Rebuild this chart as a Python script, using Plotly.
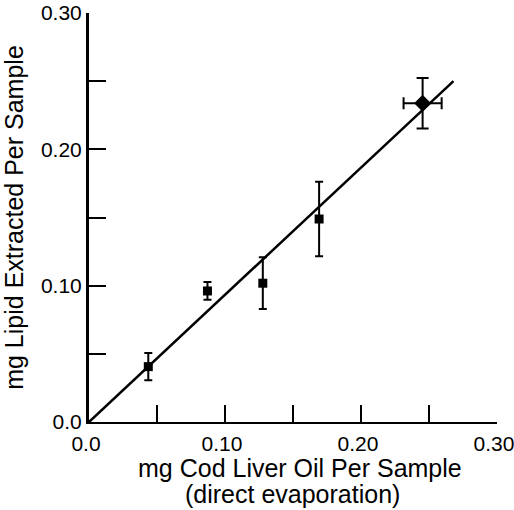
import plotly.graph_objects as go

# Data
sq_x = [0.0436, 0.0871, 0.1278, 0.1692]
sq_y = [0.0406, 0.0961, 0.1018, 0.1489]
sq_yerr = [0.0100, 0.0065, 0.0190, 0.0274]

dm_x = [0.2453]
dm_y = [0.2338]
dm_yerr = [0.0186]
dm_xerr = [0.0140]

fit_x = [0.0, 0.268]
fit_y = [0.0, 0.250]

tick_vals = [0.0, 0.05, 0.10, 0.15, 0.20, 0.25, 0.30]
x_tick_text = ["0.0", "", "0.10", "", "0.20", "", "0.30"]
y_tick_text = ["0.0", "", "0.10", "", "0.20", "", "0.30"]

x_title_lines = ["mg Cod Liver Oil Per Sample", "(direct evaporation)"]
y_title = "mg Lipid Extracted Per Sample"

FONT = "Liberation Sans, Arial, Helvetica, sans-serif"

fig = go.Figure()
fig.add_trace(go.Scatter(x=fit_x, y=fit_y, mode="lines",
                         line=dict(color="black", width=2.5), showlegend=False))
fig.add_trace(go.Scatter(x=sq_x, y=sq_y, mode="markers",
                         marker=dict(symbol="square", size=9, color="black"),
                         error_y=dict(type="data", array=sq_yerr, color="black",
                                      thickness=2, width=4),
                         showlegend=False))
fig.add_trace(go.Scatter(x=dm_x, y=dm_y, mode="markers",
                         marker=dict(symbol="diamond", size=13, color="black"),
                         error_y=dict(type="data", array=dm_yerr, color="black",
                                      thickness=2, width=6),
                         error_x=dict(type="data", array=dm_xerr, color="black",
                                      thickness=2, width=6),
                         showlegend=False))

fig.update_layout(
    width=514, height=510,
    margin=dict(l=89, r=17, t=13, b=88, autoexpand=False),
    paper_bgcolor="white", plot_bgcolor="white",
    font=dict(family=FONT, color="black"),
)
fig.update_xaxes(
    range=[0, 0.30], tickvals=tick_vals, ticktext=x_tick_text,
    ticks="inside", ticklen=17, tickwidth=2, tickcolor="black",
    showline=True, linecolor="black", linewidth=2,
    showgrid=False, zeroline=False, automargin=False,
    tickfont=dict(size=21), ticklabelstandoff=2, ticklabelshift=-3,
    ticklabeloverflow="allow",
)
fig.update_yaxes(
    range=[0, 0.30], tickvals=tick_vals, ticktext=y_tick_text,
    ticks="inside", ticklen=17, tickwidth=2, tickcolor="black",
    showline=True, linecolor="black", linewidth=3,
    showgrid=False, zeroline=False, automargin=False,
    tickfont=dict(size=21), ticklabelstandoff=0,
    title=dict(text=y_title, font=dict(size=25)),
)

# x-axis title as two centred lines below the tick labels
for text, xs, ys in zip(x_title_lines, [7, -1], [-46, -72]):
    fig.add_annotation(text=text, xref="paper", yref="paper", x=0.5, y=0,
                       xanchor="center", yanchor="middle", xshift=xs, yshift=ys,
                       showarrow=False, font=dict(size=25, family=FONT, color="black"))

fig.write_html("out.html")
